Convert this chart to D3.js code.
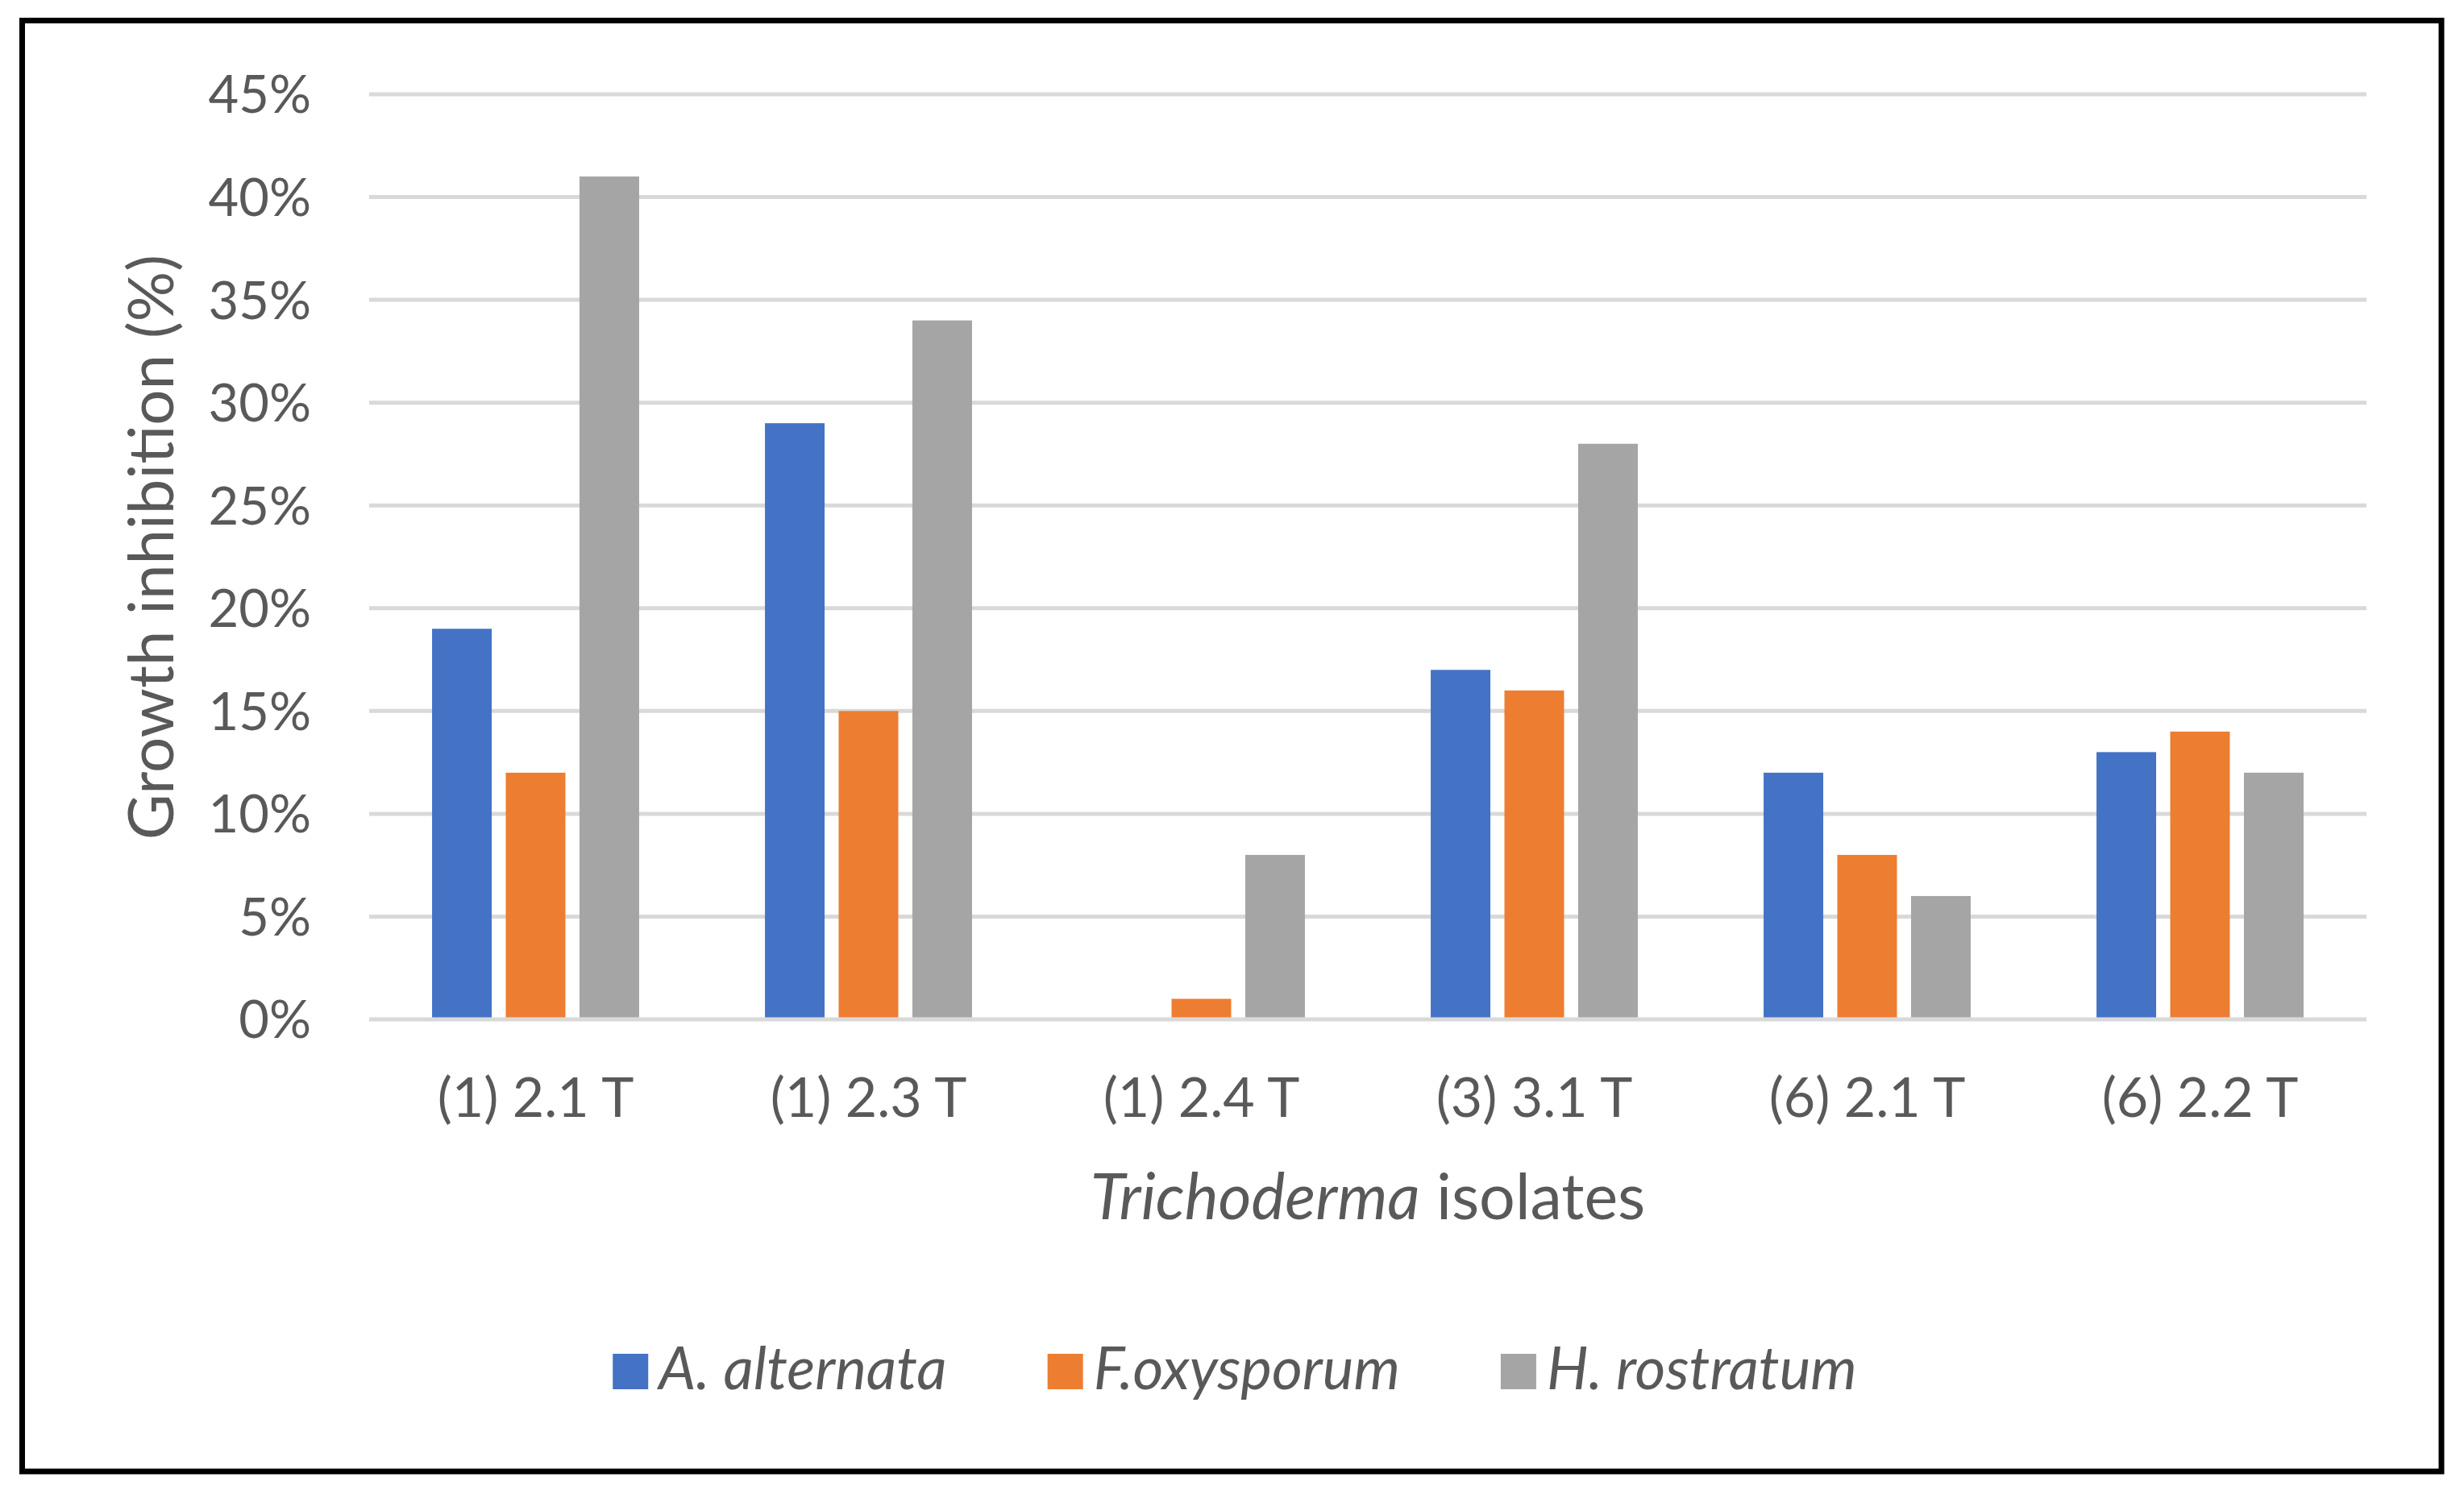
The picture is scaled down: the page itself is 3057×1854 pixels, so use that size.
<!DOCTYPE html>
<html>
<head>
<meta charset="utf-8">
<script src="https://cdn.jsdelivr.net/npm/d3@7"></script>
<style>
  body { margin: 0; background: #fff; }
  svg { display: block; }
</style>
</head>
<body>
<svg id="chart"></svg>
<script>
const isolates = ["(1) 2.1 T", "(1) 2.3 T", "(1) 2.4 T", "(3) 3.1 T", "(6) 2.1 T", "(6) 2.2 T"];
const pathogens = ["A. alternata", "F.oxysporum", "H. rostratum"];
const alternata = [19, 29, 0, 17, 12, 13];
const oxysporum = [12, 15, 1, 16, 8, 14];
const rostratum = [41, 34, 8, 28, 6, 12];
const yTicks = [0, 5, 10, 15, 20, 25, 30, 35, 40, 45];
const colors = ["#4472c4", "#ed7d31", "#a5a5a5"];

const width = 3057, height = 1854;
const font = "Lato, 'Open Sans', sans-serif";
const textColor = "#595959";

const svg = d3.select("#chart").attr("width", width).attr("height", height);

// chart frame
svg.append("rect")
    .attr("x", 27.5).attr("y", 25.5)
    .attr("width", 3029 - 27.5).attr("height", 1826 - 25.5)
    .attr("fill", "#fff").attr("stroke", "#000").attr("stroke-width", 7);

const plot = { left: 458, right: 2936, top: 117, bottom: 1265 };

const x0 = d3.scaleBand().domain(isolates).range([plot.left, plot.right]).padding(0);
const groupW = x0.bandwidth() * 0.622;
const x1 = d3.scaleBand().domain(pathogens).range([0, groupW]).paddingInner(0.191).paddingOuter(0);
const y = d3.scaleLinear().domain([0, 45]).range([plot.bottom, plot.top]);

// gridlines
svg.append("g")
    .selectAll("line")
    .data(yTicks)
    .join("line")
    .attr("x1", plot.left).attr("x2", plot.right)
    .attr("y1", d => y(d)).attr("y2", d => y(d))
    .attr("stroke", "#d9d9d9").attr("stroke-width", 5);

// y tick labels
svg.append("g")
    .selectAll("text")
    .data(yTicks)
    .join("text")
    .attr("x", 386).attr("y", d => y(d))
    .attr("dy", "0.36em")
    .attr("text-anchor", "end")
    .attr("font-family", font).attr("font-size", 65)
    .attr("fill", textColor)
    .text(d => d + "%");

// bars
const series = [alternata, oxysporum, rostratum];
const groups = svg.append("g")
    .selectAll("g")
    .data(isolates)
    .join("g")
    .attr("transform", d => `translate(${x0(d) + (x0.bandwidth() - groupW) / 2},0)`);

groups.selectAll("rect")
    .data((d, i) => pathogens.map((p, j) => ({ p, v: series[j][i], c: colors[j] })))
    .join("rect")
    .attr("x", d => x1(d.p))
    .attr("width", x1.bandwidth())
    .attr("y", d => y(d.v))
    .attr("height", d => Math.max(0, y(0) - y(d.v) - 2.5))
    .attr("fill", d => d.c);

// x tick labels
svg.append("g")
    .selectAll("text")
    .data(isolates)
    .join("text")
    .attr("x", d => x0(d) + x0.bandwidth() / 2)
    .attr("y", 1386)
    .attr("text-anchor", "middle")
    .attr("font-family", font).attr("font-size", 68)
    .attr("fill", textColor)
    .text(d => d);

// axis titles
const xt = svg.append("text")
    .attr("x", (plot.left + plot.right) / 2).attr("y", 1513)
    .attr("text-anchor", "middle")
    .attr("font-family", font).attr("font-size", 79)
    .attr("fill", textColor);
xt.append("tspan").attr("font-style", "italic").text("Trichoderma");
xt.append("tspan").text(" isolates");

svg.append("text")
    .attr("transform", `translate(215,${(plot.top + plot.bottom) / 2 - 12}) rotate(-90)`)
    .attr("text-anchor", "middle")
    .attr("font-family", font).attr("font-size", 78)
    .attr("fill", textColor)
    .text("Growth inhibition (%)");

// legend
const legend = svg.append("g");
const items = legend.selectAll("g")
    .data(pathogens)
    .join("g");
items.append("rect")
    .attr("width", 44).attr("height", 44)
    .attr("y", 1680)
    .attr("fill", (d, i) => colors[i]);
items.append("text")
    .attr("x", 57).attr("y", 1724)
    .attr("font-family", font).attr("font-size", 73).attr("font-style", "italic")
    .attr("fill", textColor)
    .text(d => d);

const gap = 125;
const widths = items.nodes().map(n => 57 + n.querySelector("text").getComputedTextLength());
const total = d3.sum(widths) + gap * (widths.length - 1);
let cx = 1532 - total / 2;
items.each(function(d, i) {
    d3.select(this).attr("transform", `translate(${cx},0)`);
    cx += widths[i] + gap;
});
</script>
</body>
</html>
